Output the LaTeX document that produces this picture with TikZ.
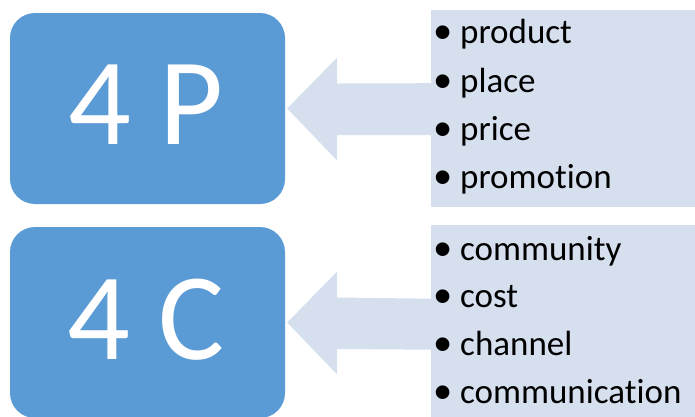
\documentclass[tikz,border=0pt]{standalone}
\usepackage{fontspec}
\setmainfont[Ligatures=NoCommon]{Carlito}
\usetikzlibrary{calc}
\definecolor{boxblue}{HTML}{5B9BD5}
\definecolor{paleblue}{HTML}{D5DFEE}
\tikzset{
  bigbox/.style={fill=boxblue, draw=none, rounded corners=25pt, minimum width=275pt, minimum height=191pt, inner sep=0pt},
  bigtext/.style={text=white, font=\fontsize{124}{124}\selectfont, inner sep=0pt, anchor=base},
  listbox/.style={fill=paleblue, draw=none, minimum width=270pt, minimum height=197pt, inner sep=0pt, anchor=north west},
  item/.style={font=\fontsize{35}{35}\selectfont, inner sep=0pt, anchor=base west, text=black},
  arrowfill/.style={fill=paleblue, draw=none}
}
\newcommand{\bul}[1]{\makebox[26pt][l]{\kern-1pt\raisebox{-0.5pt}{\scalebox{1.1}{•}}}#1}
\begin{document}
\begin{tikzpicture}[x=1pt,y=-1pt]
\useasboundingbox (0,0) rectangle (695,416);
% boxes
\node[bigbox] (P) at (147.5,108.5) {};
\node[bigbox] (C) at (147.5,322.5) {};
\node[bigtext] (Pt) at (146,144) {4 P};
\node[bigtext] (Ct) at (146,359) {4 C};
\node[listbox] (PL) at (431,10) {};
\node[listbox] (CL) at (431,225) {};
% arrows
\fill[arrowfill] ([xshift=2pt]P.east) -- ++(50,-51) -- ++(0,26) -- ($(PL.west)+(0,-25.5)$) -- ($(PL.west)+(0,26.5)$) -- ($([xshift=2pt]P.east)+(50,26.5)$) -- ++(0,25.5) -- cycle;
\fill[arrowfill] ([xshift=2pt]C.east) -- ++(50,-51) -- ++(0,26) -- ($(CL.west)+(0,-25)$) -- ($(CL.west)+(0,26)$) -- ($([xshift=2pt]C.east)+(50,26.5)$) -- ++(0,25.5) -- cycle;
% lists
\node[item] (p1) at (434,43) {\bul{product}};
\node[item] (p2) at (434,92) {\bul{place}};
\node[item] (p3) at (434,140) {\bul{price}};
\node[item] (p4) at (434,188) {\bul{promotion}};
\node[item] (c1) at (434,260) {\bul{community}};
\node[item] (c2) at (434,307) {\bul{cost}};
\node[item] (c3) at (434,355) {\bul{channel}};
\node[item] (c4) at (434,403) {\bul{communication}};
\end{tikzpicture}
\end{document}
